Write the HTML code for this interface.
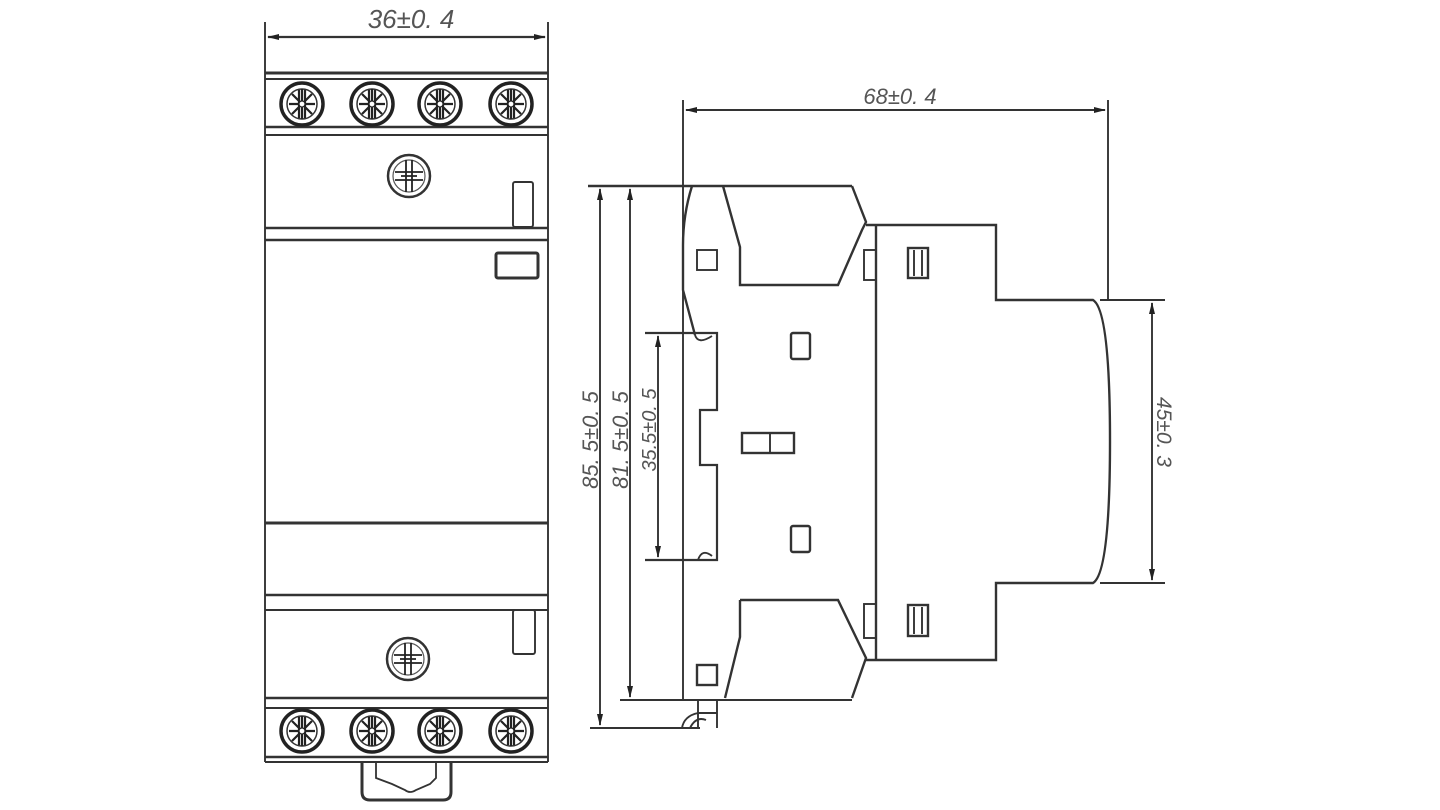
<!DOCTYPE html>
<html><head><meta charset="utf-8"><style>
html,body{margin:0;padding:0;background:#fff;}
svg{display:block}
text{font-family:"Liberation Sans",sans-serif;font-style:italic;fill:#555}
</style></head><body>
<svg width="1440" height="810" viewBox="0 0 1440 810" xmlns="http://www.w3.org/2000/svg">
<defs>
<marker id="ar" markerWidth="12" markerHeight="8" refX="11" refY="4" orient="auto-start-reverse" markerUnits="userSpaceOnUse"><path d="M0,1 L12,4 L0,7 Z" fill="#222"/></marker>
<g id="scr">
<circle r="21" fill="none" stroke="#222" stroke-width="3.5"/>
<circle r="15" fill="none" stroke="#333" stroke-width="1.5"/>
<path d="M-13,0H13M0,-15V15M-10,-10L10,10M-10,10L10,-10M-3,-14V14M3,-14V14" stroke="#222" stroke-width="2.2"/>
<circle r="3" fill="#fff" stroke="#222" stroke-width="1.2"/>
</g>
<g id="scr2">
<circle r="21" fill="none" stroke="#333" stroke-width="2.5"/>
<circle r="16" fill="none" stroke="#555" stroke-width="1.2"/>
<path d="M-14,-4H14M-14,4H14M-3,-16V16M3,-16V16M-8,0H8" stroke="#222" stroke-width="1.8"/>
</g>
</defs>
<g fill="none" stroke="#333" stroke-width="1.9">
<line x1="265" y1="22" x2="265" y2="762"/>
<line x1="548" y1="22" x2="548" y2="762"/>
<line x1="268" y1="37" x2="545" y2="37" marker-start="url(#ar)" marker-end="url(#ar)" stroke-width="2.2"/>
<line x1="265" y1="73" x2="548" y2="73" stroke-width="3"/>
<line x1="265" y1="79" x2="548" y2="79"/>
<line x1="265" y1="127" x2="548" y2="127" stroke-width="2.4"/>
<line x1="265" y1="135" x2="548" y2="135"/>
<rect x="513" y="182" width="20" height="45" rx="2"/>
<line x1="265" y1="228" x2="548" y2="228" stroke-width="2.4"/>
<line x1="265" y1="240" x2="548" y2="240" stroke-width="2.4"/>
<rect x="496" y="253" width="42" height="25" stroke-width="3" rx="2"/>
<line x1="265" y1="523" x2="548" y2="523" stroke-width="3"/>
<line x1="265" y1="595" x2="548" y2="595" stroke-width="2.4"/>
<line x1="265" y1="610" x2="548" y2="610"/>
<rect x="513" y="610" width="22" height="44" rx="2"/>
<line x1="265" y1="698" x2="548" y2="698" stroke-width="2.4"/>
<line x1="265" y1="708" x2="548" y2="708"/>
<line x1="265" y1="757" x2="548" y2="757" stroke-width="2.4"/>
<line x1="265" y1="762" x2="548" y2="762"/>
<path d="M362,763 V792 Q362,800 370,800 H443 Q451,800 451,792 V763" stroke-width="3"/>
<path d="M376,763 V778 L392,784 L405,790 Q410,794 416,790 L430,784 L436,778 V763" stroke-width="1.8"/>
<line x1="683" y1="100" x2="683" y2="700"/>
<line x1="1108" y1="100" x2="1108" y2="300"/>
<line x1="686" y1="110" x2="1105" y2="110" marker-start="url(#ar)" marker-end="url(#ar)"/>
<line x1="588" y1="186" x2="852" y2="186" stroke-width="2.4"/>
<line x1="600" y1="189" x2="600" y2="725" marker-start="url(#ar)" marker-end="url(#ar)"/>
<line x1="630" y1="189" x2="630" y2="697" marker-start="url(#ar)" marker-end="url(#ar)"/>
<line x1="658" y1="336" x2="658" y2="557" marker-start="url(#ar)" marker-end="url(#ar)"/>
<line x1="1152" y1="303" x2="1152" y2="580" marker-start="url(#ar)" marker-end="url(#ar)"/>
<line x1="590" y1="728" x2="700" y2="728"/>
<line x1="620" y1="700" x2="852" y2="700"/>
<line x1="1100" y1="300" x2="1165" y2="300"/>
<line x1="1100" y1="583" x2="1165" y2="583"/>
<path d="M852,186 L866,222 L862,230 L838,285 H740 V247 L723,186" stroke-width="2.4"/>
<path d="M866,225 H996 V300 H1093 Q1110,310 1110,441 Q1110,573 1093,583 H996 V660 H866" stroke-width="2.4"/>
<line x1="876" y1="225" x2="876" y2="660" stroke-width="2.4"/>
<path d="M692,186 Q683,215 683,245 V290 L695,335" stroke-width="2.4"/>
<path d="M645,333 H717 V410 H700 V465 H717 V560 H645" stroke-width="2.2"/>
<path d="M695,335 Q698,345 712,336" />
<path d="M698,560 Q702,548 712,556"/>
<path d="M740,600 H838 L866,658 L852,698 M740,600 V637 L725,698" stroke-width="2.4"/>
<rect x="697" y="250" width="20" height="20"/>
<rect x="791" y="333" width="19" height="26" rx="2" stroke-width="2.4"/>
<rect x="742" y="433" width="52" height="20" stroke-width="2.4"/>
<line x1="770" y1="433" x2="770" y2="453"/>
<rect x="791" y="526" width="19" height="26" rx="2" stroke-width="2.4"/>
<rect x="864" y="250" width="12" height="30"/>
<rect x="864" y="604" width="12" height="34"/>
<rect x="908" y="248" width="20" height="30" stroke-width="2.4"/>
<line x1="914" y1="250" x2="914" y2="276"/><line x1="922" y1="250" x2="922" y2="276"/>
<rect x="908" y="605" width="20" height="31" stroke-width="2.4"/>
<line x1="914" y1="607" x2="914" y2="634"/><line x1="922" y1="607" x2="922" y2="634"/>
<rect x="697" y="665" width="20" height="20" stroke-width="2.4"/>
<path d="M698,700 V728 M717,700 V728 M698,713 H717 M682,728 Q684,716 698,713 M690,728 Q696,716 706,720" />
</g>
<g>
<use href="#scr" x="302" y="104"/><use href="#scr" x="372" y="104"/><use href="#scr" x="440" y="104"/><use href="#scr" x="511" y="104"/>
<use href="#scr" x="302" y="731"/><use href="#scr" x="372" y="731"/><use href="#scr" x="440" y="731"/><use href="#scr" x="511" y="731"/>
<use href="#scr2" x="409" y="176"/><use href="#scr2" x="408" y="659"/>
</g>
<text x="411" y="28" text-anchor="middle" font-size="26">36±0. 4</text>
<text x="900" y="104" text-anchor="middle" font-size="22">68±0. 4</text>
<text transform="translate(598,440) rotate(-90)" text-anchor="middle" font-size="22">85. 5±0. 5</text>
<text transform="translate(628,440) rotate(-90)" text-anchor="middle" font-size="22">81. 5±0. 5</text>
<text transform="translate(656,430) rotate(-90)" text-anchor="middle" font-size="20">35.5±0. 5</text>
<text transform="translate(1157,432) rotate(90)" text-anchor="middle" font-size="21">45±0. 3</text>
</svg>
</body></html>
